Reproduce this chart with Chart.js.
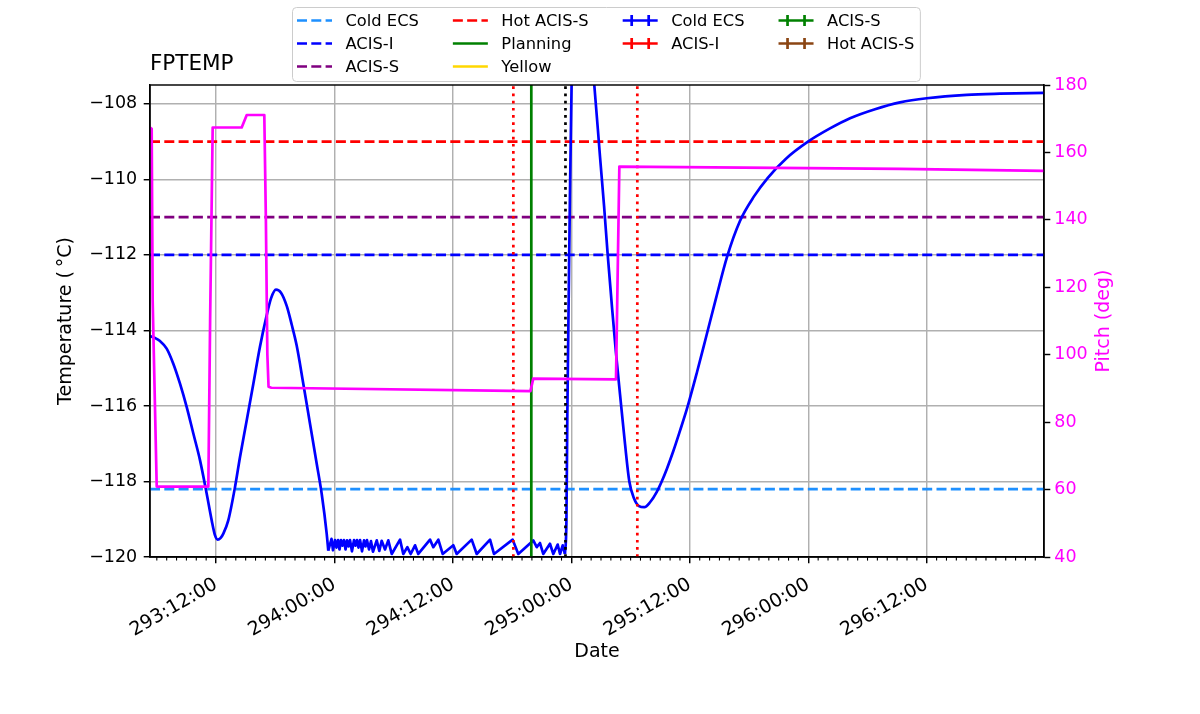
<!DOCTYPE html>
<html>
<head>
<meta charset="utf-8">
<title>FPTEMP</title>
<script src="https://cdn.jsdelivr.net/npm/chart.js@4.4.1/dist/chart.umd.min.js"></script>
<style>
  html, body { margin: 0; padding: 0; background: #fff; }
  #wrap { position: relative; width: 1200px; height: 714px; }
</style>
</head>
<body>
<div id="wrap"><canvas id="fptemp" width="1200" height="714"></canvas></div>
<script>
// times are hours counted from 293:00:00
const dayStart = 293;
const timeMin = 5.31, timeMax = 95.88;
const tempMin = -120, tempMax = -107.5;
const pitchMin = 40, pitchMax = 180;

const tempTicks = [-120, -118, -116, -114, -112, -110, -108];
const pitchTicks = [40, 60, 80, 100, 120, 140, 160, 180];

// FPTEMP
const tempTimes = [5.31, 5.82, 6.32, 7.00, 7.67, 8.35, 9.03, 9.70, 10.38, 11.05,
  11.56, 11.89, 12.17, 12.45, 12.74, 13.24, 13.92, 14.43, 15.11, 15.78,
  16.45, 17.13, 17.57, 18.07, 18.58, 19.16, 19.67, 20.17, 20.84, 21.52,
  22.20, 22.70, 23.21, 23.37,
  23.70, 23.85, 24.05, 24.20, 24.36, 24.51, 24.66, 24.81, 24.96, 25.12,
  25.27, 25.42, 25.57, 25.77, 25.98, 26.13, 26.28, 26.43, 26.59, 26.79,
  26.99, 27.14, 27.29, 27.50, 27.70, 27.90,
  28.28, 28.54, 28.78, 29.12, 29.45, 29.80, 30.64, 30.97, 31.38, 31.72,
  32.16, 32.49, 33.68, 34.01, 34.52, 34.96, 36.04, 36.38, 37.90, 38.41,
  39.76, 40.16, 42.05, 42.62, 44.14, 44.49, 44.82, 45.15, 45.83, 46.17,
  46.61, 46.85, 47.12, 47.35,
  47.50, 47.59, 47.79, 48.02, 49.18, 50.32, 50.90, 51.31, 51.68, 52.12,
  52.52, 52.93, 53.43, 53.87, 54.35, 54.85, 55.39, 55.97, 56.64, 57.15,
  57.68, 58.32, 59.00, 59.68, 60.73, 61.64, 62.65, 63.77, 65.08, 66.50,
  67.92, 69.74, 71.97, 74.20, 76.23, 78.76, 81.29, 84.00, 88.05, 91.42, 95.88];
const tempValues = [-114.15, -114.2, -114.28, -114.48, -114.88, -115.41, -116.03, -116.73, -117.44, -118.32,
  -119.03, -119.42, -119.54, -119.5, -119.38, -119.03, -118.15, -117.35, -116.38, -115.41,
  -114.43, -113.6, -113.15, -112.92, -113.0, -113.35, -113.85, -114.4, -115.41, -116.47,
  -117.53, -118.32, -119.38, -119.83,
  -119.52, -119.82, -119.55, -119.75, -119.55, -119.8, -119.55, -119.7, -119.55, -119.8,
  -119.56, -119.72, -119.55, -119.85, -119.55, -119.7, -119.55, -119.75, -119.55, -119.85,
  -119.56, -119.72, -119.55, -119.8, -119.58, -119.86,
  -119.56, -119.84, -119.57, -119.8, -119.56, -119.92, -119.54, -119.92, -119.74, -119.92,
  -119.69, -119.92, -119.54, -119.74, -119.54, -119.92, -119.69, -119.92, -119.54, -119.92,
  -119.54, -119.92, -119.54, -119.92, -119.56, -119.74, -119.63, -119.92, -119.65, -119.92,
  -119.67, -119.92, -119.69, -119.92,
  -119.0, -116.2, -111.8, -107.5, -104.5, -107.5, -109.4, -110.7, -112.0, -113.4,
  -114.6, -115.7, -117.0, -118.0, -118.45, -118.65, -118.68, -118.55, -118.28, -118.0,
  -117.66, -117.2, -116.66, -116.1, -115.1, -114.18, -113.15, -112.05, -111.1, -110.45,
  -109.95, -109.45, -109.0, -108.65, -108.38, -108.14, -107.96, -107.85, -107.76, -107.73, -107.71];
// the sawtooth stretch at the cold floor is drawn with straight segments
const sawStart = 23.37, sawEnd = 47.35;

// pitch, right axis
const pitchTimes = [5.31, 5.48, 5.58, 5.99, 11.22, 11.40, 11.66, 14.60, 15.11, 16.89,
  17.05, 17.20, 17.32, 17.60, 43.85, 44.14, 52.52, 52.86, 81.29, 95.88];
const pitchValues = [167.4, 167.0, 116.0, 60.9, 60.9, 110.0, 167.4, 167.4, 171.1, 171.1,
  140.0, 100.0, 90.5, 90.2, 89.2, 92.9, 92.7, 155.8, 155.1, 154.55];

// limit lines
const limitNames = ['Cold ECS', 'ACIS-I', 'ACIS-S', 'Hot ACIS-S'];
const limitValues = [-118.2, -112.0, -111.0, -109.0];
const limitColors = ['#1e90ff', '#0000ff', '#800080', '#ff0000'];

// vertical markers
const eventTimes = [42.12, 43.94, 47.40, 54.68];
const eventColors = ['#ff0000', '#008000', '#000000', '#ff0000'];
const eventDotted = [true, false, true, true];

// legend (column-major, 3 rows)
const legendLabels = ['Cold ECS', 'ACIS-I', 'ACIS-S', 'Hot ACIS-S', 'Planning', 'Yellow',
  'Cold ECS', 'ACIS-I', 'ACIS-S', 'Hot ACIS-S'];
const legendKinds = ['dash', 'dash', 'dash', 'dash', 'solid', 'solid',
  'errbar', 'errbar', 'errbar', 'errbar'];
const legendColors = ['#1e90ff', '#0000ff', '#800080', '#ff0000', '#008000', '#ffd700',
  '#0000ff', '#ff0000', '#008000', '#8b4513'];

const FONT = "'DejaVu Sans', sans-serif";
const LW = 2.7;
const DASH = [10, 4.3];
const DOT = [2.7, 4.5];

const hourTicks = [];
for (let h = Math.ceil(timeMin); h <= timeMax; h++) hourTicks.push(h);

function dateLabel(h) {
  const day = dayStart + Math.floor(h / 24);
  const hh = String(h % 24).padStart(2, '0');
  return day + ':' + hh + ':00';
}
const isMajor = v => v % 12 === 0;

const datasets = [];

datasets.push({
  label: 'Pitch', yAxisID: 'y1', order: 0,
  data: pitchTimes.map((t, i) => ({ x: t, y: pitchValues[i] })),
  borderColor: '#ff00ff', borderWidth: LW, pointRadius: 0, borderJoinStyle: 'round'
});

eventTimes.forEach((t, i) => {
  datasets.push({
    label: 'event', yAxisID: 'y', order: 1,
    data: [{ x: t, y: tempMin }, { x: t, y: tempMax }],
    borderColor: eventColors[i], borderWidth: LW, pointRadius: 0,
    borderDash: eventDotted[i] ? DOT : []
  });
});

const tempPoints = tempTimes.map((t, i) => ({ x: t, y: tempValues[i] }));
const i0 = tempTimes.indexOf(sawStart), i1 = tempTimes.indexOf(sawEnd);
[[0, i0, true], [i0, i1, false], [i1, tempTimes.length - 1, true]].forEach(([a, b, smooth]) => {
  datasets.push({
    label: 'FPTEMP', yAxisID: 'y', order: 2, clip: 0,
    data: tempPoints.slice(a, b + 1),
    borderColor: '#0000ff', borderWidth: LW, pointRadius: 0, borderJoinStyle: 'round',
    cubicInterpolationMode: smooth ? 'monotone' : 'default'
  });
});

limitValues.forEach((v, i) => {
  datasets.push({
    label: limitNames[i], yAxisID: 'y', order: 3,
    data: [{ x: timeMin, y: v }, { x: timeMax, y: v }],
    borderColor: limitColors[i], borderWidth: LW, pointRadius: 0, borderDash: DASH
  });
});

// hourly minor ticks and the top spine
const frameAndMinor = {
  id: 'frameAndMinor',
  afterDatasetsDraw(chart) {
    const { ctx, chartArea: a, scales } = chart;
    ctx.save();
    ctx.strokeStyle = '#000';
    ctx.lineWidth = 1.1;
    hourTicks.forEach(h => {
      if (isMajor(h)) return;
      const px = scales.x.getPixelForValue(h);
      ctx.beginPath();
      ctx.moveTo(px, a.bottom);
      ctx.lineTo(px, a.bottom + 3.6);
      ctx.stroke();
    });
    ctx.lineWidth = 1.45;
    ctx.strokeRect(a.left, a.top, a.right - a.left, a.bottom - a.top);
    ctx.restore();
  }
};

// right axis label reads bottom to top, like matplotlib
const pitchTitle = {
  id: 'pitchTitle',
  afterDraw(chart) {
    const { ctx, chartArea: a } = chart;
    ctx.save();
    ctx.translate(a.right + 60, (a.top + a.bottom) / 2);
    ctx.rotate(-Math.PI / 2);
    ctx.font = '19px ' + FONT;
    ctx.fillStyle = '#ff00ff';
    ctx.textAlign = 'center';
    ctx.textBaseline = 'middle';
    ctx.fillText('Pitch (deg)', 0, 0);
    ctx.restore();
  }
};

const legendBox = {
  id: 'legendBox',
  afterDraw(chart) {
    const ctx = chart.ctx;
    const handleLen = 35, handleGap = 13.5, colGap = 34;
    const left = 292.5, top = 7.5, firstRow = 20.5, rowStep = 23;
    ctx.save();
    ctx.font = '16.3px ' + FONT;
    const cols = [];
    let i = 0;
    while (i < legendLabels.length) {
      const n = Math.ceil((legendLabels.length - i) / (4 - cols.length));
      cols.push(legendLabels.map((_, k) => k).slice(i, i + n));
      i += n;
    }
    const colX = [];
    let x = left + 4.5;
    cols.forEach(c => {
      colX.push(x);
      const w = Math.max(...c.map(k => ctx.measureText(legendLabels[k]).width));
      x += handleLen + handleGap + w + colGap;
    });
    const right = x - colGap + 6;
    ctx.fillStyle = 'rgba(255,255,255,0.8)';
    ctx.strokeStyle = '#cccccc';
    ctx.lineWidth = 1;
    ctx.beginPath();
    ctx.roundRect(left, top, right - left, 74, 4);
    ctx.fill();
    ctx.stroke();

    ctx.textBaseline = 'middle';
    cols.forEach((c, ci) => {
      c.forEach((k, ri) => {
        const hx = colX[ci], y = firstRow + ri * rowStep;
        ctx.strokeStyle = legendColors[k];
        ctx.lineWidth = LW;
        ctx.setLineDash(legendKinds[k] === 'dash' ? DASH : []);
        ctx.beginPath();
        ctx.moveTo(hx, y);
        ctx.lineTo(hx + handleLen, y);
        ctx.stroke();
        ctx.setLineDash([]);
        if (legendKinds[k] === 'errbar') {
          const mid = hx + handleLen / 2;
          [mid - 8.5, mid + 8.5].forEach(cx => {
            ctx.beginPath();
            ctx.moveTo(cx, y - 5.5);
            ctx.lineTo(cx, y + 5.5);
            ctx.stroke();
          });
        }
        ctx.fillStyle = '#000';
        ctx.fillText(legendLabels[k], hx + handleLen + handleGap, y + 1);
      });
    });
    ctx.restore();
  }
};

const tickFont = { family: FONT, size: 17.5 };
const labelFont = { family: FONT, size: 19 };

new Chart(document.getElementById('fptemp'), {
  type: 'line',
  data: { datasets },
  options: {
    responsive: false,
    animation: false,
    events: [],
    layout: { padding: 0 },
    plugins: {
      legend: { display: false },
      tooltip: { enabled: false },
      title: {
        display: true, text: 'FPTEMP', align: 'start', fullSize: false, color: '#000',
        font: { family: FONT, size: 21.5, weight: 'normal' },
        padding: { top: 52, bottom: 7.2 }
      }
    },
    scales: {
      x: {
        type: 'linear', position: 'bottom', min: timeMin, max: timeMax,
        afterBuildTicks: s => { s.ticks = hourTicks.map(v => ({ value: v })); },
        afterFit: s => { s.height = 157; },
        ticks: {
          autoSkip: false, maxRotation: 30, minRotation: 30, padding: 10,
          color: '#000', font: { family: FONT, size: 19 },
          callback: v => isMajor(v) ? dateLabel(v) : ''
        },
        grid: {
          color: c => (c.tick && isMajor(c.tick.value)) ? '#b0b0b0' : 'rgba(0,0,0,0)',
          tickColor: c => (c.tick && isMajor(c.tick.value)) ? '#000' : 'rgba(0,0,0,0)',
          lineWidth: 1.45, tickWidth: 1.45, tickLength: 6.3
        },
        border: { display: true, color: '#000', width: 1.45 },
        title: {
          display: true, text: 'Date', color: '#000',
          font: labelFont, padding: { top: 0, bottom: 51 }
        }
      },
      y: {
        type: 'linear', position: 'left', min: tempMin, max: tempMax,
        afterBuildTicks: s => { s.ticks = tempTicks.map(v => ({ value: v })); },
        afterFit: s => { s.width = 150; },
        ticks: {
          padding: 6.5, color: '#000', font: tickFont,
          callback: v => String(v).replace('-', '\u2212')
        },
        grid: { color: '#b0b0b0', tickColor: '#000', lineWidth: 1.45, tickWidth: 1.45, tickLength: 6.3 },
        border: { display: true, color: '#000', width: 1.45 },
        title: {
          display: true, text: 'Temperature (\u2009\u00B0C)', color: '#000',
          font: labelFont, padding: { top: 55, bottom: 0 }
        }
      },
      y1: {
        type: 'linear', position: 'right', min: pitchMin, max: pitchMax,
        afterBuildTicks: s => { s.ticks = pitchTicks.map(v => ({ value: v })); },
        afterFit: s => { s.width = 156; },
        ticks: { padding: 4, color: '#ff00ff', font: tickFont },
        grid: { drawOnChartArea: false, tickColor: '#000', tickWidth: 1.45, tickLength: 6.3 },
        border: { display: true, color: '#000', width: 1.45 }
      }
    }
  },
  plugins: [frameAndMinor, pitchTitle, legendBox]
});
</script>
</body>
</html>
